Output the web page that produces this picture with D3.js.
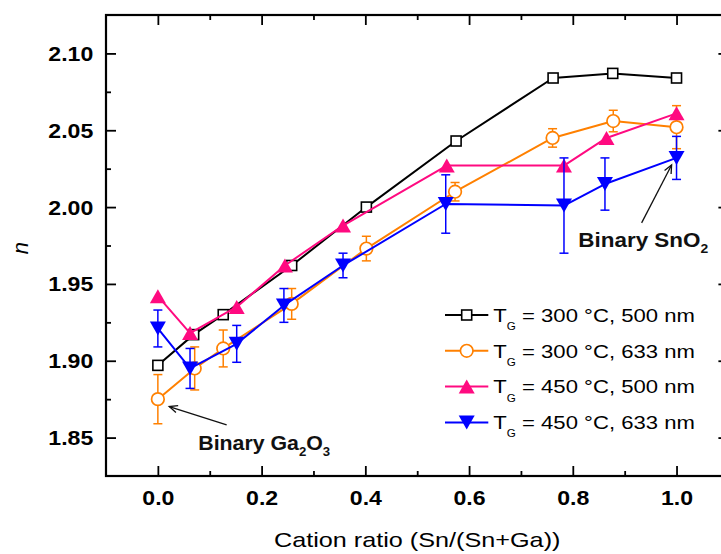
<!DOCTYPE html>
<html>
<head>
<meta charset="utf-8">
<script src="https://cdn.jsdelivr.net/npm/d3@7"></script>
<style>
  body { margin: 0; background: #fff; }
  svg { display: block; }
  text { font-family: "Liberation Sans", Arial, sans-serif; white-space: pre; }
</style>
</head>
<body>
<svg id="chart" width="721" height="554"></svg>
<script>
// ---- data: refractive index n vs. cation ratio Sn/(Sn+Ga) ----
// T_G = 300 °C, 500 nm
const x300_500 = [0.000, 0.069, 0.126, 0.258, 0.402, 0.575, 0.762, 0.877, 1.000];
const n300_500 = [1.897, 1.917, 1.930, 1.962, 2.000, 2.043, 2.084, 2.087, 2.084];
// T_G = 300 °C, 633 nm
const x300_633 = [0.000, 0.071, 0.126, 0.258, 0.402, 0.573, 0.761, 0.878, 1.000];
const n300_633 = [1.875, 1.895, 1.908, 1.937, 1.973, 2.010, 2.045, 2.056, 2.052];
const e300_633 = [0.016, 0.014, 0.012, 0.010, 0.008, 0.006, 0.006, 0.007, 0.014];
// T_G = 450 °C, 500 nm
const x450_500 = [0.000, 0.062, 0.152, 0.245, 0.357, 0.557, 0.783, 0.865, 1.000];
const n450_500 = [1.942, 1.918, 1.935, 1.962, 1.988, 2.027, 2.027, 2.045, 2.061];
// T_G = 450 °C, 633 nm
const x450_633 = [0.000, 0.062, 0.152, 0.243, 0.357, 0.555, 0.783, 0.862, 1.000];
const n450_633 = [1.921, 1.895, 1.911, 1.936, 1.962, 2.002, 2.001, 2.015, 2.032];
const e450_633 = [0.012, 0.013, 0.012, 0.011, 0.008, 0.019, 0.031, 0.017, 0.014];

const legendTemps = ["300", "300", "450", "450"];
const legendWaves = ["500", "633", "500", "633"];

const xTicks = [0.0, 0.2, 0.4, 0.6, 0.8, 1.0];
const xMinorTicks = [0.1, 0.3, 0.5, 0.7, 0.9];
const yTicks = [1.85, 1.90, 1.95, 2.00, 2.05, 2.10];
const yMinorTicks = [1.875, 1.925, 1.975, 2.025, 2.075];

const xTitle = "Cation ratio (Sn/(Sn+Ga))";
const yTitle = "n";

// ---- layout ----
const svg = d3.select("#chart");
const plotL = 106, plotR = 728.4, plotT = 15, plotB = 476;

const x = d3.scaleLinear().domain([-0.1, 1.1]).range([plotL, plotR]);
const y = d3.scaleLinear().domain([1.825, 2.125]).range([plotB, plotT]);

const series = [
  { xs: x300_500, ns: n300_500, errs: null,     color: "#000000", shape: "square" },
  { xs: x300_633, ns: n300_633, errs: e300_633, color: "#FF8000", shape: "circle" },
  { xs: x450_500, ns: n450_500, errs: null,     color: "#FF0A80", shape: "up" },
  { xs: x450_633, ns: n450_633, errs: e450_633, color: "#0000FF", shape: "down" }
];

// marker drawing
function addMarker(g, shape, color, cx, cy) {
  if (shape === "circle") {
    g.append("circle").attr("cx", cx).attr("cy", cy).attr("r", 6.3)
      .attr("fill", "#fff").attr("stroke", color).attr("stroke-width", 1.7);
  } else if (shape === "square") {
    g.append("rect").attr("x", cx - 5).attr("y", cy - 5).attr("width", 10).attr("height", 10)
      .attr("fill", "#fff").attr("stroke", color).attr("stroke-width", 1.6);
  } else if (shape === "up") {
    g.append("path").attr("d", `M${cx},${cy - 7}L${cx + 8},${cy + 7}L${cx - 8},${cy + 7}Z`)
      .attr("fill", color);
  } else {
    g.append("path").attr("d", `M${cx},${cy + 7}L${cx + 8},${cy - 7}L${cx - 8},${cy - 7}Z`)
      .attr("fill", color);
  }
}

// ---- axes ----
function styleAxis(g) {
  g.select(".domain").remove();
  g.selectAll(".tick line").attr("stroke", "#000").attr("stroke-width", 1.8);
}

const tickFont = { size: 21, sx: 1.1 };

svg.append("g").attr("transform", `translate(0,${plotB})`)
  .call(d3.axisBottom(x).tickValues(xTicks).tickSizeInner(-10).tickSizeOuter(0).tickFormat(d3.format(".1f")))
  .call(styleAxis)
  .call(g => g.selectAll(".tick text")
    .attr("y", 29).attr("dy", 0)
    .attr("font-family", "Liberation Sans, Arial, sans-serif")
    .attr("font-size", tickFont.size).attr("font-weight", "bold").attr("fill", "#000")
    .attr("transform", `scale(${tickFont.sx},1)`));
svg.append("g").attr("transform", `translate(0,${plotB})`)
  .call(d3.axisBottom(x).tickValues(xMinorTicks).tickSizeInner(-5).tickSizeOuter(0).tickFormat(""))
  .call(styleAxis);

svg.append("g").attr("transform", `translate(0,${plotT})`)
  .call(d3.axisTop(x).tickValues(xTicks).tickSizeInner(-10).tickSizeOuter(0).tickFormat(""))
  .call(styleAxis);
svg.append("g").attr("transform", `translate(0,${plotT})`)
  .call(d3.axisTop(x).tickValues(xMinorTicks).tickSizeInner(-5).tickSizeOuter(0).tickFormat(""))
  .call(styleAxis);

svg.append("g").attr("transform", `translate(${plotL},0)`)
  .call(d3.axisLeft(y).tickValues(yTicks).tickSizeInner(-10).tickSizeOuter(0).tickFormat(d3.format(".2f")))
  .call(styleAxis)
  .call(g => g.selectAll(".tick text")
    .attr("x", -12.7 / tickFont.sx).attr("y", 7).attr("dy", 0)
    .attr("font-family", "Liberation Sans, Arial, sans-serif")
    .attr("font-size", tickFont.size).attr("font-weight", "bold").attr("fill", "#000")
    .attr("transform", `scale(${tickFont.sx},1)`));
svg.append("g").attr("transform", `translate(${plotL},0)`)
  .call(d3.axisLeft(y).tickValues(yMinorTicks).tickSizeInner(-5).tickSizeOuter(0).tickFormat(""))
  .call(styleAxis);

svg.append("g").attr("transform", `translate(${plotR},0)`)
  .call(d3.axisRight(y).tickValues(yTicks).tickSizeInner(-10).tickSizeOuter(0).tickFormat(""))
  .call(styleAxis);
svg.append("g").attr("transform", `translate(${plotR},0)`)
  .call(d3.axisRight(y).tickValues(yMinorTicks).tickSizeInner(-5).tickSizeOuter(0).tickFormat(""))
  .call(styleAxis);

// frame
svg.append("rect")
  .attr("x", plotL).attr("y", plotT).attr("width", plotR - plotL).attr("height", plotB - plotT)
  .attr("fill", "none").attr("stroke", "#000").attr("stroke-width", 2.2);

// stretch a text horizontally to a given width
function fitWidth(textSel, width) {
  const w = textSel.node().getBBox().width;
  textSel.attr("transform", `scale(${width / w},1)`);
}

// axis titles
const xt = svg.append("g").attr("transform", `translate(${(plotL + plotR) / 2},546.7)`)
  .append("text").attr("text-anchor", "middle").attr("font-size", 21).attr("fill", "#000")
  .text(xTitle);
fitWidth(xt, 286.7);

svg.append("text")
  .attr("transform", "translate(28.3,248) rotate(-90)")
  .attr("text-anchor", "middle").attr("font-size", 22).attr("font-style", "italic")
  .attr("fill", "#000").text(yTitle);

// ---- series ----
const line = d3.line().x(d => x(d[0])).y(d => y(d[1]));
const plot = svg.append("g");

series.forEach(s => {
  const g = plot.append("g");
  const pts = s.xs.map((v, i) => [v, s.ns[i]]);
  g.append("path").attr("d", line(pts)).attr("fill", "none")
    .attr("stroke", s.color).attr("stroke-width", 2).attr("stroke-linejoin", "round");
  if (s.errs) {
    pts.forEach((p, i) => {
      const cx = x(p[0]), y1 = y(p[1] + s.errs[i]), y0 = y(p[1] - s.errs[i]);
      const eg = g.append("g").attr("stroke", s.color).attr("stroke-width", 1.5);
      eg.append("line").attr("x1", cx).attr("x2", cx).attr("y1", y1).attr("y2", y0);
      eg.append("line").attr("x1", cx - 4.5).attr("x2", cx + 4.5).attr("y1", y1).attr("y2", y1);
      eg.append("line").attr("x1", cx - 4.5).attr("x2", cx + 4.5).attr("y1", y0).attr("y2", y0);
    });
  }
  pts.forEach(p => addMarker(g, s.shape, s.color, x(p[0]), y(p[1])));
});

// ---- legend ----
const legendRows = [315, 350.8, 386.6, 422.4];
series.forEach((s, i) => {
  const cy = legendRows[i];
  const lg = svg.append("g");
  lg.append("line").attr("x1", 445).attr("x2", 488.3).attr("y1", cy).attr("y2", cy)
    .attr("stroke", s.color).attr("stroke-width", 2);
  addMarker(lg, s.shape, s.color, 466.7, cy);
  const t = lg.append("g").attr("transform", `translate(493.3,${cy + 6.7})`)
    .append("text").attr("font-size", 19).attr("fill", "#000");
  t.append("tspan").text("T");
  t.append("tspan").attr("font-size", 10).attr("dy", 8.3).text("G");
  t.append("tspan").attr("dy", -8.3).text(` = ${legendTemps[i]} °C, ${legendWaves[i]} nm`);
  fitWidth(t, 201.7);
});

// ---- annotations ----
function arrow(from, to) {
  const x0 = x(from[0]), y0 = y(from[1]), x1 = x(to[0]), y1 = y(to[1]);
  const a = Math.atan2(y1 - y0, x1 - x0), L = 9, W = 0.42;
  const g = svg.append("g").attr("stroke", "#111").attr("stroke-width", 1.3).attr("fill", "none");
  g.append("line").attr("x1", x0).attr("y1", y0).attr("x2", x1).attr("y2", y1);
  g.append("path").attr("d",
    `M${x1 - L * Math.cos(a - W)},${y1 - L * Math.sin(a - W)}L${x1},${y1}L${x1 - L * Math.cos(a + W)},${y1 - L * Math.sin(a + W)}`);
}

function chemLabel(pos, parts, width) {
  const t = svg.append("g").attr("transform", `translate(${x(pos[0])},${y(pos[1])})`)
    .append("text").attr("font-size", 21).attr("font-weight", "bold").attr("fill", "#111");
  let shifted = false;
  parts.forEach(p => {
    const sp = t.append("tspan").text(p.t);
    if (p.sub && !shifted) { sp.attr("font-size", 13).attr("dy", 6); shifted = true; }
    else if (!p.sub && shifted) { sp.attr("dy", -6); shifted = false; }
    else if (p.sub) sp.attr("font-size", 13);
  });
  fitWidth(t, width);
}

arrow([0.1326, 1.8582], [0.0219, 1.8702]);
chemLabel([0.0779, 1.8419], [{ t: "Binary Ga" }, { t: "2", sub: true }, { t: "O" }, { t: "3", sub: true }], 132);

arrow([0.9327, 1.9897], [0.9905, 2.0274]);
chemLabel([0.8106, 1.9742], [{ t: "Binary SnO" }, { t: "2", sub: true }], 130);
</script>
</body>
</html>
